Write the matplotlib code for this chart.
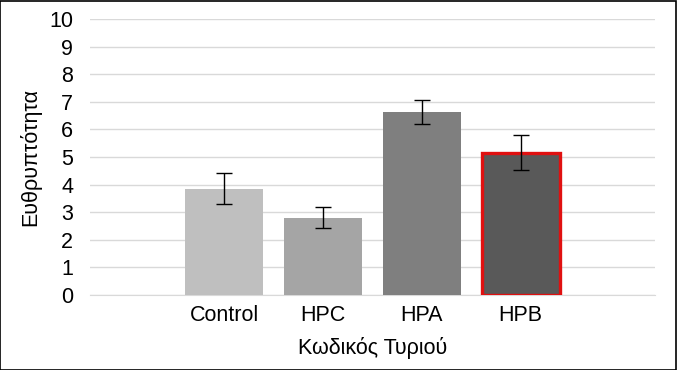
import matplotlib
matplotlib.use("Agg")
import matplotlib.pyplot as plt
from matplotlib.patches import Rectangle

categories = ["Control", "HPC", "HPA", "HPB"]
values = [3.85, 2.80, 6.63, 5.16]
errors = [0.57, 0.38, 0.45, 0.63]
yticks = list(range(0, 11))
colors = ["#bfbfbf", "#a5a5a5", "#7f7f7f", "#595959"]
edgecolors = ["none", "none", "none", "#e01010"]
linewidths = [0, 0, 0, 2.4]

plt.rcParams['font.family'] = ['Liberation Sans', 'DejaVu Sans']

fig = plt.figure(figsize=(6.77, 3.70), dpi=100)
ax = fig.add_axes([90/677, 1-295/370, 565/677, (295-19)/370])

x = list(range(len(categories)))
for i in x:
    ax.bar(i, values[i], width=0.79, color=colors[i], edgecolor=edgecolors[i],
           linewidth=linewidths[i], zorder=3)
ax.errorbar(x, values, yerr=errors, fmt='none', ecolor='black', elinewidth=1,
            capsize=6, capthick=1, zorder=4)

fs = 15.5
ax.set_ylim(0, 10)
ax.set_xlim(-1.36, 4.36)
ax.set_yticks(yticks)
ax.set_yticklabels([str(t) for t in yticks], fontsize=fs)
ax.set_xticks(x)
ax.set_xticklabels(categories, fontsize=fs)
ax.tick_params(axis='y', length=0, pad=12)
ax.tick_params(axis='x', length=0, pad=7)
ax.grid(axis='y', color='#d9d9d9', linewidth=1, zorder=0)
for s in ['top', 'right', 'left']:
    ax.spines[s].set_visible(False)
ax.spines['bottom'].set_color('#d9d9d9')
ax.set_ylabel("Ευθρυπτότητα", fontsize=fs, labelpad=6)
ax.set_xlabel("Κωδικός Τυριού", fontsize=fs, labelpad=8)

fig.patches.append(Rectangle((0.0007, 0.001), 0.9985, 0.9975, transform=fig.transFigure,
                             fill=False, edgecolor='black', linewidth=1.2))

fig.savefig("out.png", dpi=100)
